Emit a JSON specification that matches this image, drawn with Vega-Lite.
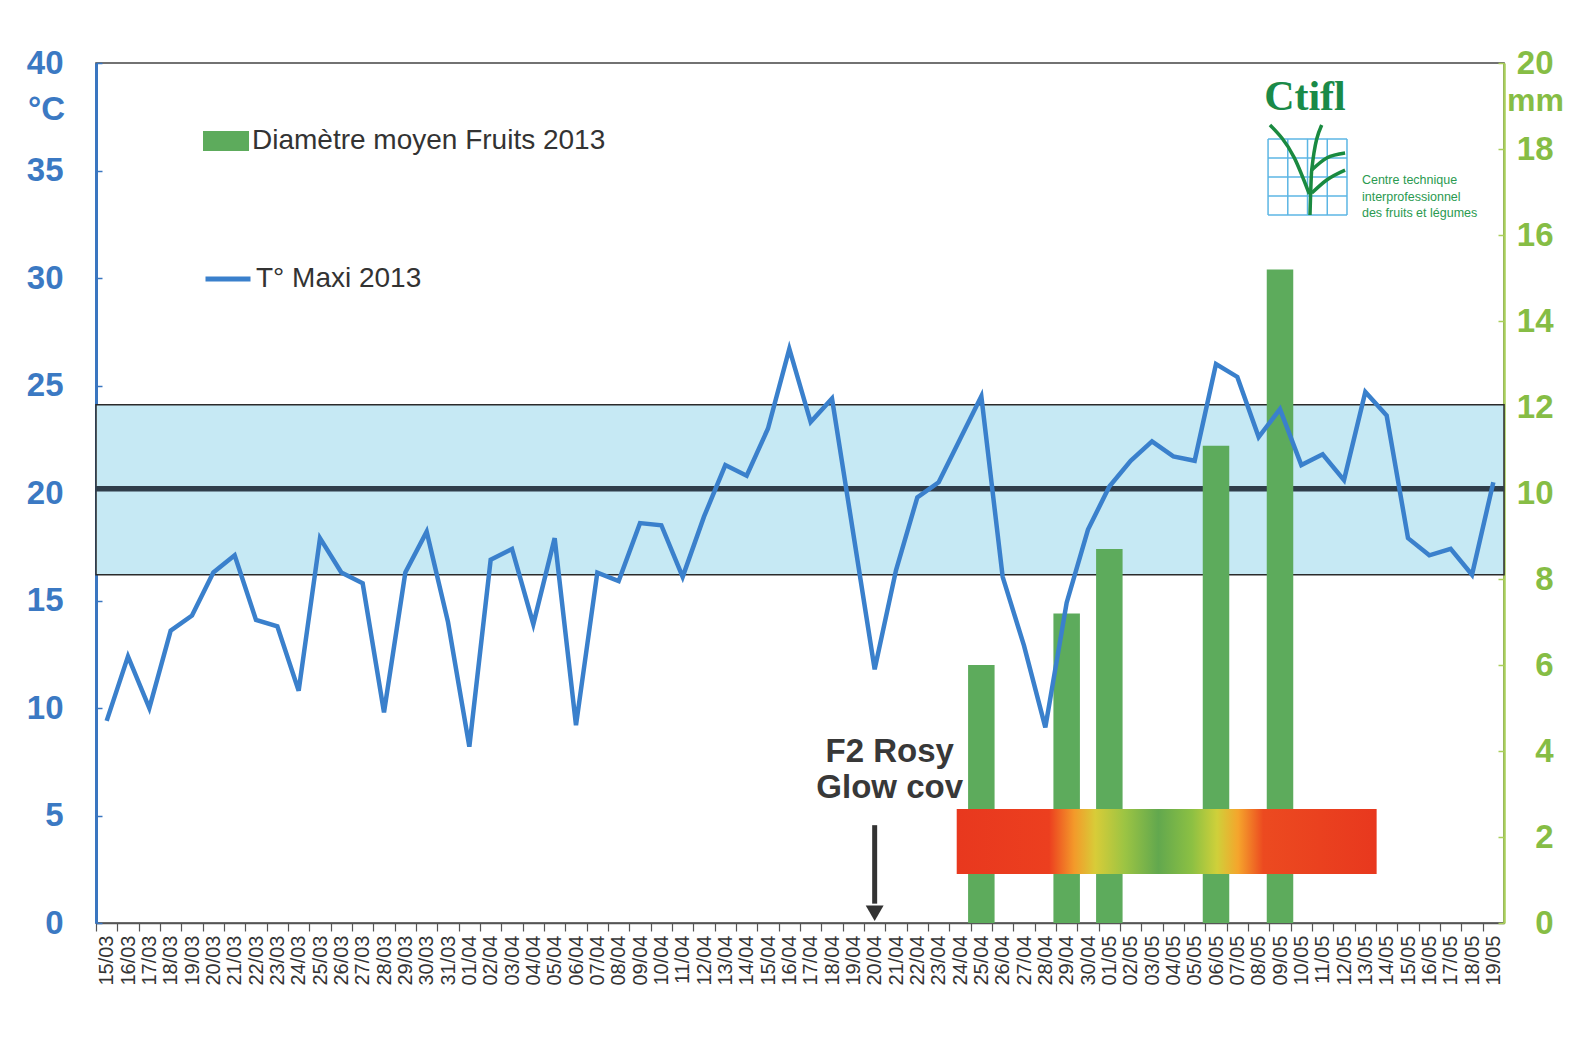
{
  "$schema": "https://vega.github.io/schema/vega-lite/v6.json",
  "width": 1408,
  "height": 860,
  "autosize": {"type": "none"},
  "padding": {"left": 96, "top": 63, "right": 85, "bottom": 115},
  "background": "white",
  "config": {"view": {"stroke": "#444444", "strokeWidth": 1.5}, "font": "Liberation Sans"},
  "datasets": {
    "temps": [
      {"date": "2013-03-15", "tmax": 9.4}, {"date": "2013-03-16", "tmax": 12.4}, {"date": "2013-03-17", "tmax": 10.0},
      {"date": "2013-03-18", "tmax": 13.6}, {"date": "2013-03-19", "tmax": 14.3}, {"date": "2013-03-20", "tmax": 16.3},
      {"date": "2013-03-21", "tmax": 17.1}, {"date": "2013-03-22", "tmax": 14.1}, {"date": "2013-03-23", "tmax": 13.8},
      {"date": "2013-03-24", "tmax": 10.8}, {"date": "2013-03-25", "tmax": 17.9}, {"date": "2013-03-26", "tmax": 16.3},
      {"date": "2013-03-27", "tmax": 15.8}, {"date": "2013-03-28", "tmax": 9.8}, {"date": "2013-03-29", "tmax": 16.3},
      {"date": "2013-03-30", "tmax": 18.2}, {"date": "2013-03-31", "tmax": 14.0}, {"date": "2013-04-01", "tmax": 8.2},
      {"date": "2013-04-02", "tmax": 16.9}, {"date": "2013-04-03", "tmax": 17.4}, {"date": "2013-04-04", "tmax": 13.9},
      {"date": "2013-04-05", "tmax": 17.9}, {"date": "2013-04-06", "tmax": 9.2}, {"date": "2013-04-07", "tmax": 16.3},
      {"date": "2013-04-08", "tmax": 15.9}, {"date": "2013-04-09", "tmax": 18.6}, {"date": "2013-04-10", "tmax": 18.5},
      {"date": "2013-04-11", "tmax": 16.1}, {"date": "2013-04-12", "tmax": 18.9}, {"date": "2013-04-13", "tmax": 21.3},
      {"date": "2013-04-14", "tmax": 20.8}, {"date": "2013-04-15", "tmax": 23.0}, {"date": "2013-04-16", "tmax": 26.7},
      {"date": "2013-04-17", "tmax": 23.3}, {"date": "2013-04-18", "tmax": 24.4}, {"date": "2013-04-19", "tmax": 18.1},
      {"date": "2013-04-20", "tmax": 11.8}, {"date": "2013-04-21", "tmax": 16.4}, {"date": "2013-04-22", "tmax": 19.8},
      {"date": "2013-04-23", "tmax": 20.5}, {"date": "2013-04-24", "tmax": 22.5}, {"date": "2013-04-25", "tmax": 24.5},
      {"date": "2013-04-26", "tmax": 16.1}, {"date": "2013-04-27", "tmax": 12.9}, {"date": "2013-04-28", "tmax": 9.1},
      {"date": "2013-04-29", "tmax": 14.9}, {"date": "2013-04-30", "tmax": 18.3}, {"date": "2013-05-01", "tmax": 20.3},
      {"date": "2013-05-02", "tmax": 21.5}, {"date": "2013-05-03", "tmax": 22.4}, {"date": "2013-05-04", "tmax": 21.7},
      {"date": "2013-05-05", "tmax": 21.5}, {"date": "2013-05-06", "tmax": 26.0}, {"date": "2013-05-07", "tmax": 25.4},
      {"date": "2013-05-08", "tmax": 22.6}, {"date": "2013-05-09", "tmax": 23.9}, {"date": "2013-05-10", "tmax": 21.3},
      {"date": "2013-05-11", "tmax": 21.8}, {"date": "2013-05-12", "tmax": 20.6}, {"date": "2013-05-13", "tmax": 24.7},
      {"date": "2013-05-14", "tmax": 23.6}, {"date": "2013-05-15", "tmax": 17.9}, {"date": "2013-05-16", "tmax": 17.1},
      {"date": "2013-05-17", "tmax": 17.4}, {"date": "2013-05-18", "tmax": 16.2}, {"date": "2013-05-19", "tmax": 20.5}
    ],
    "fruit": [
      {"date": "2013-04-25", "diam": 6.0},
      {"date": "2013-04-29", "diam": 7.2},
      {"date": "2013-05-01", "diam": 8.7},
      {"date": "2013-05-06", "diam": 11.1},
      {"date": "2013-05-09", "diam": 15.2}
    ],
    "band": [{"date": "2013-03-14T12:00:00Z", "end": "2013-05-19T12:00:00Z", "low": 16.2, "high": 24.1, "mid": 20.2}],
    "coverage": [{"date": "2013-04-23T20:18:00Z", "end": "2013-05-13T12:43:00Z", "low": 2.28, "high": 5.3}],
    "arrow": [{"date": "2013-04-20", "top": 4.55, "bottom": 0.9, "head": 0.45}],
    "note": [
      {"date": "2013-04-20", "temp": 7.49, "label": "F2 Rosy"},
      {"date": "2013-04-20", "temp": 5.81, "label": "Glow cov"}
    ],
    "gridV": [
      {"date": "2013-05-08T10:34:00Z", "y1": 32.93, "y2": 36.47},
      {"date": "2013-05-09T08:46:00Z", "y1": 32.93, "y2": 36.47},
      {"date": "2013-05-10T06:58:00Z", "y1": 32.93, "y2": 36.47},
      {"date": "2013-05-11T05:10:00Z", "y1": 32.93, "y2": 36.47},
      {"date": "2013-05-12T03:22:00Z", "y1": 32.93, "y2": 36.47}
    ],
    "gridH": [
      {"date": "2013-05-08T10:34:00Z", "end": "2013-05-12T03:22:00Z", "y": 36.47},
      {"date": "2013-05-08T10:34:00Z", "end": "2013-05-12T03:22:00Z", "y": 35.585},
      {"date": "2013-05-08T10:34:00Z", "end": "2013-05-12T03:22:00Z", "y": 34.7},
      {"date": "2013-05-08T10:34:00Z", "end": "2013-05-12T03:22:00Z", "y": 33.815},
      {"date": "2013-05-08T10:34:00Z", "end": "2013-05-12T03:22:00Z", "y": 32.93}
    ],
    "tree": [
      {"branch": "trunk", "i": 0, "date": "2013-05-10T09:45:00Z", "y": 32.93},
      {"branch": "trunk", "i": 1, "date": "2013-05-10T11:40:00Z", "y": 35.02},
      {"branch": "trunk", "i": 2, "date": "2013-05-10T22:55:00Z", "y": 37.12},
      {"branch": "left", "i": 0, "date": "2013-05-10T09:00:00Z", "y": 33.9},
      {"branch": "left", "i": 1, "date": "2013-05-09T16:00:00Z", "y": 35.6},
      {"branch": "left", "i": 2, "date": "2013-05-08T12:43:00Z", "y": 37.12},
      {"branch": "right1", "i": 0, "date": "2013-05-10T11:40:00Z", "y": 35.02},
      {"branch": "right1", "i": 1, "date": "2013-05-11T04:34:00Z", "y": 35.58},
      {"branch": "right1", "i": 2, "date": "2013-05-12T01:12:00Z", "y": 35.81},
      {"branch": "right2", "i": 0, "date": "2013-05-10T11:40:00Z", "y": 33.95},
      {"branch": "right2", "i": 1, "date": "2013-05-11T04:34:00Z", "y": 34.56},
      {"branch": "right2", "i": 2, "date": "2013-05-12T01:12:00Z", "y": 35.02}
    ],
    "logo": [{"date": "2013-05-10T04:05:00Z", "y": 37.81, "text": "Ctifl"}],
    "logoSub": [
      {"date": "2013-05-12T20:10:00Z", "y": 34.56, "text": "Centre technique"},
      {"date": "2013-05-12T20:10:00Z", "y": 33.78, "text": "interprofessionnel"},
      {"date": "2013-05-12T20:10:00Z", "y": 33.01, "text": "des fruits et légumes"}
    ]
  },
  "encoding": {
    "x": {"field": "date", "type": "temporal",
      "scale": {"type": "utc", "padding": 0, "domain": [{"year": 2013, "month": 3, "date": 14, "hours": 12, "utc": true}, {"year": 2013, "month": 5, "date": 19, "hours": 12, "utc": true}]},
      "axis": {"format": "%d/%m", "tickCount": 66, "labelAngle": -90,
        "labelFont": "Liberation Sans", "labelFontSize": 20, "labelColor": "#333333", "labelOverlap": false,
        "labelFlush": false, "labelPadding": 4, "tickSize": 8, "tickColor": "#555555",
        "tickWidth": 1.2, "tickOffset": -10.667, "labelOffset": 10.667, "domainColor": "#555555", "domainWidth": 1.5,
        "grid": false, "title": null}}
  },
  "layer": [
    {
      "data": {"name": "band"},
      "mark": {"type": "rect", "fill": "#c6e9f4", "stroke": "#2b2b2b", "strokeWidth": 1.5},
      "encoding": {
        "x2": {"field": "end"},
        "y": {"field": "low", "type": "quantitative", "scale": {"domain": [0, 40]}, "axis": null},
        "y2": {"field": "high"}
      }
    },
    {
      "data": {"name": "band"},
      "mark": {"type": "rule", "stroke": "#2f3d4a", "strokeWidth": 5.5},
      "encoding": {
        "x2": {"field": "end"},
        "y": {"field": "mid", "type": "quantitative", "scale": {"domain": [0, 40]}, "axis": null}
      }
    },
    {
      "data": {"name": "fruit"},
      "mark": {"type": "bar", "width": 26.5},
      "encoding": {
        "y": {"field": "diam", "type": "quantitative", "scale": {"domain": [0, 20]},
          "axis": {"orient": "right", "values": [0, 2, 4, 6, 8, 10, 12, 14, 16, 18, 20], "grid": false,
            "labelColor": "#86bd45", "labelFont": "Liberation Sans", "labelFontSize": 33, "labelFontWeight": "bold",
            "labelAlign": "right", "labelPadding": 55, "tickSize": -6, "tickColor": "#a9cf5a", "tickWidth": 1.5,
            "domainColor": "#a9cf5a", "domainWidth": 2.5,
            "title": "mm", "titleX": 31, "titleY": 37, "titleAngle": 0, "titleAlign": "center", "titleBaseline": "middle",
            "titleColor": "#86bd45", "titleFont": "Liberation Sans", "titleFontSize": 32, "titleFontWeight": "bold"}},
        "fill": {"datum": "Diamètre moyen Fruits 2013", "type": "nominal", "scale": {"range": ["#5dab5c"]},
          "legend": {"orient": "none", "legendX": 107, "legendY": 55, "title": null, "padding": 0,
            "labelFont": "Liberation Sans", "labelFontSize": 28, "labelColor": "#333333", "labelLimit": 600, "labelOffset": 3,
            "symbolType": "M-1,-0.43H1V0.43H-1Z", "symbolSize": 2116, "symbolStrokeWidth": 0, "symbolFillColor": "#5dab5c"}}
      }
    },
    {
      "data": {"name": "temps"},
      "mark": {"type": "line", "strokeWidth": 4.5},
      "encoding": {
        "y": {"field": "tmax", "type": "quantitative", "scale": {"domain": [0, 40]},
          "axis": {"orient": "left", "values": [0, 5, 10, 15, 20, 25, 30, 35, 40], "grid": false,
            "labelColor": "#3b79c3", "labelFont": "Liberation Sans", "labelFontSize": 33, "labelFontWeight": "bold",
            "labelPadding": 39, "tickSize": -6, "tickColor": "#3a76c0", "tickWidth": 1.5,
            "domainColor": "#3a76c0", "domainWidth": 3,
            "title": "°C", "titleX": -50, "titleY": 46, "titleAngle": 0, "titleAlign": "center", "titleBaseline": "middle",
            "titleColor": "#3b79c3", "titleFont": "Liberation Sans", "titleFontSize": 33, "titleFontWeight": "bold"}},
        "stroke": {"datum": "T° Maxi 2013", "type": "nominal", "scale": {"range": ["#3a80cc"]},
          "legend": {"orient": "none", "legendX": 107, "legendY": 191, "title": null, "padding": 0,
            "labelFont": "Liberation Sans", "labelFontSize": 28, "labelColor": "#333333", "labelLimit": 600, "labelOffset": 3,
            "symbolType": "stroke", "symbolSize": 2025, "symbolStrokeWidth": 5}}
      }
    },
    {
      "data": {"name": "coverage"},
      "mark": {"type": "rect", "fill": {"gradient": "linear", "x1": 0, "y1": 0, "x2": 1, "y2": 0,
        "stops": [
          {"offset": 0, "color": "#e8381e"},
          {"offset": 0.22, "color": "#ec3f1f"},
          {"offset": 0.28, "color": "#f39a2a"},
          {"offset": 0.33, "color": "#d8cc38"},
          {"offset": 0.4, "color": "#9cc443"},
          {"offset": 0.48, "color": "#62a84e"},
          {"offset": 0.56, "color": "#8cc043"},
          {"offset": 0.62, "color": "#cfd03a"},
          {"offset": 0.67, "color": "#f5a52c"},
          {"offset": 0.73, "color": "#ec4a20"},
          {"offset": 1, "color": "#e8381e"}
        ]}},
      "encoding": {
        "x2": {"field": "end"},
        "y": {"field": "low", "type": "quantitative", "scale": {"domain": [0, 40]}, "axis": null},
        "y2": {"field": "high"}
      }
    },
    {
      "data": {"name": "arrow"},
      "mark": {"type": "rule", "stroke": "#333333", "strokeWidth": 5},
      "encoding": {
        "y": {"field": "top", "type": "quantitative", "scale": {"domain": [0, 40]}, "axis": null},
        "y2": {"field": "bottom"}
      }
    },
    {
      "data": {"name": "arrow"},
      "mark": {"type": "point", "shape": "triangle-down", "filled": true, "size": 320, "color": "#333333", "opacity": 1},
      "encoding": {
        "y": {"field": "head", "type": "quantitative", "scale": {"domain": [0, 40]}, "axis": null}
      }
    },
    {
      "data": {"name": "note"},
      "mark": {"type": "text", "font": "Liberation Sans", "fontSize": 33, "fontWeight": "bold", "color": "#383838", "align": "center", "baseline": "alphabetic", "dx": 15},
      "encoding": {
        "y": {"field": "temp", "type": "quantitative", "scale": {"domain": [0, 40]}, "axis": null},
        "text": {"field": "label"}
      }
    },
    {
      "data": {"name": "gridV"},
      "mark": {"type": "rule", "stroke": "#5cb6e4", "strokeWidth": 1.5},
      "encoding": {
        "y": {"field": "y1", "type": "quantitative", "scale": {"domain": [0, 40]}, "axis": null},
        "y2": {"field": "y2"}
      }
    },
    {
      "data": {"name": "gridH"},
      "mark": {"type": "rule", "stroke": "#5cb6e4", "strokeWidth": 1.5},
      "encoding": {
        "x2": {"field": "end"},
        "y": {"field": "y", "type": "quantitative", "scale": {"domain": [0, 40]}, "axis": null}
      }
    },
    {
      "data": {"name": "tree"},
      "mark": {"type": "line", "stroke": "#1a8a40", "strokeWidth": 3.5, "interpolate": "monotone"},
      "encoding": {
        "y": {"field": "y", "type": "quantitative", "scale": {"domain": [0, 40]}, "axis": null},
        "detail": {"field": "branch", "type": "nominal"},
        "order": {"field": "i", "type": "quantitative"}
      }
    },
    {
      "data": {"name": "logo"},
      "mark": {"type": "text", "font": "Liberation Serif", "fontSize": 42, "fontWeight": "bold", "color": "#1a8a48", "align": "center", "baseline": "alphabetic"},
      "encoding": {
        "y": {"field": "y", "type": "quantitative", "scale": {"domain": [0, 40]}, "axis": null},
        "text": {"field": "text"}
      }
    },
    {
      "data": {"name": "logoSub"},
      "mark": {"type": "text", "font": "Liberation Sans", "fontSize": 12.5, "color": "#2a9a50", "align": "left", "baseline": "middle"},
      "encoding": {
        "y": {"field": "y", "type": "quantitative", "scale": {"domain": [0, 40]}, "axis": null},
        "text": {"field": "text"}
      }
    }
  ],
  "resolve": {"scale": {"y": "independent"}}
}
